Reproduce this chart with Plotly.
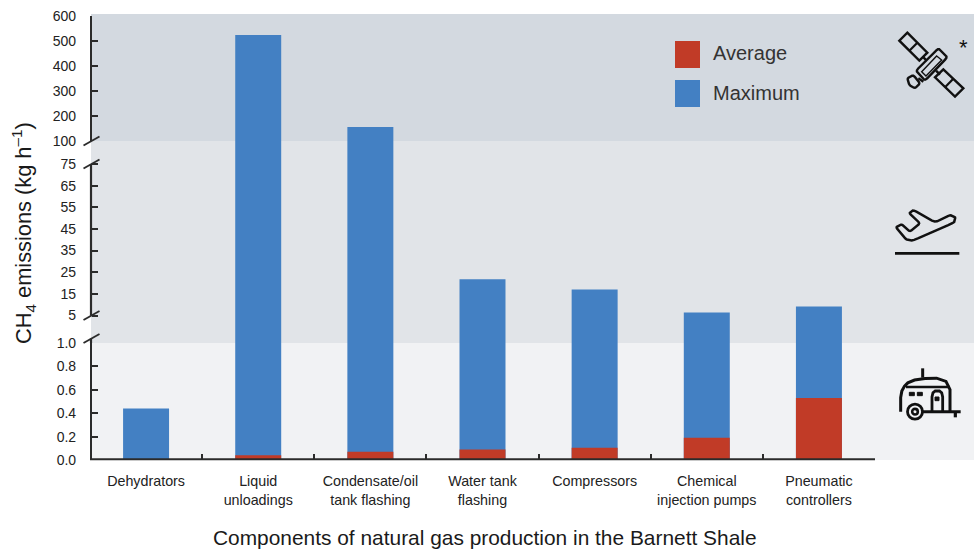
import plotly.graph_objects as go

W, H = 974, 550

categories = ["Dehydrators", "Liquid<br>unloadings", "Condensate/oil<br>tank flashing",
              "Water tank<br>flashing", "Compressors", "Chemical<br>injection pumps",
              "Pneumatic<br>controllers"]
maximum = [0.44, 524, 156, 21.7, 17, 6.4, 9.2]
average = [0.0, 0.04, 0.07, 0.09, 0.105, 0.19, 0.53]

low_ticks = [0.0, 0.2, 0.4, 0.6, 0.8, 1.0]
mid_ticks = [5, 15, 25, 35, 45, 55, 65, 75]
high_ticks = [100, 200, 300, 400, 500, 600]

BLUE, RED = "#4380c3", "#c13b27"
INK = "#2b2b2b"

def px(x):
    return x / W

def py(y):
    return 1 - y / H

# pixel rows of the three stacked panels
LOW_TOP, LOW_BOT = 343.0, 460.0
MID_TOP, MID_BOT = 141.0, 343.0
HIGH_TOP, HIGH_BOT = 16.0, 141.0
# middle axis scale: 5 at row 315.5, 75 at row 164
unit = (315.5 - 164) / 70
mid_range = [5 - (MID_BOT - 315.5) / unit, 75 + (164 - MID_TOP) / unit]

# x axis: plot starts at column 92, categories keep 112.14 px spacing around column 146
LEFT, RIGHT = 92.0, 875.0
step = (875 - 90) / 7
x_range = [-0.5 + (LEFT - 90) / step, 6.5]

fig = go.Figure()

# lower panel
fig.add_trace(go.Bar(x=categories, y=maximum, marker=dict(color=BLUE, line_width=0), width=0.41, xaxis="x", yaxis="y", name="Maximum", showlegend=False))
fig.add_trace(go.Bar(x=categories, y=average, marker=dict(color=RED, line_width=0), width=0.41, xaxis="x", yaxis="y", name="Average", showlegend=False))
# middle panel: only bars that leave the lower panel reach it
mid_vals = [m - mid_range[0] if m > 1 else None for m in maximum]
fig.add_trace(go.Bar(x=categories, y=mid_vals, base=mid_range[0], marker=dict(color=BLUE, line_width=0), width=0.41, xaxis="x", yaxis="y2", showlegend=False, name="Maximum"))
# upper panel
high_vals = [m - 100 if m > 100 else None for m in maximum]
fig.add_trace(go.Bar(x=categories, y=high_vals, base=100, marker=dict(color=BLUE, line_width=0), width=0.41, xaxis="x", yaxis="y3", showlegend=False, name="Maximum"))

shapes = []

def band(top, bot, col):
    shapes.append(dict(type="rect", xref="paper", yref="paper", layer="below", x0=px(91), x1=1,
                       y0=py(bot), y1=py(top), fillcolor=col, line_width=0))

band(14, 141, "#d3d9e0")
band(141, 343, "#e1e4e8")
band(343, 460, "#f1f2f4")

def seg(x0, y0, x1, y1, w=2.2, col=INK):
    shapes.append(dict(type="line", xref="paper", yref="paper", x0=px(x0), x1=px(x1),
                       y0=py(y0), y1=py(y1), line=dict(color=col, width=w)))

# visible part of the middle axis line, tied to the axis scale
shapes.append(dict(type="line", xref="paper", yref="y2", x0=px(91), x1=px(91), y0=5, y1=75,
                   line=dict(color=INK, width=2.2)))
# short stub of the lower axis above its 1.0 tick
seg(91, 338.5, 91, 343)
# bottom axis line
seg(90, 459.2, 875, 459.2, 2)
# break marks
for row in (141, 164, 315.5, 338.5):
    seg(83.5, row + 4.5, 99.5, row - 4.5, 1.9)

def rounded(points, r=0.18, close=True):
    out = []
    n = len(points)
    for i, (x, y) in enumerate(points):
        if not close and i in (0, n - 1):
            out.append((x, y))
            continue
        ax, ay = points[i - 1]
        bx, by = points[(i + 1) % n]
        out.append((x + (ax - x) * r, y + (ay - y) * r))
        out.append((x + (ax - x) * r * 0.3 + (bx - x) * r * 0.3, y + (ay - y) * r * 0.3 + (by - y) * r * 0.3))
        out.append((x + (bx - x) * r, y + (by - y) * r))
    return out

def path(points, close=False, w=2.4, fill=None, col="#111111"):
    d = "M" + " L".join(f"{px(x):.5f},{py(y):.5f}" for x, y in points) + (" Z" if close else "")
    shapes.append(dict(type="path", xref="paper", yref="paper", path=d,
                       line=dict(color=col, width=w), fillcolor=fill or "rgba(0,0,0,0)"))

def circle(cx, cy, r, w=2.4, fill=None, col="#111111"):
    shapes.append(dict(type="circle", xref="paper", yref="paper", x0=px(cx - r), x1=px(cx + r),
                       y0=py(cy + r), y1=py(cy - r), line=dict(color=col, width=w),
                       fillcolor=fill or "rgba(0,0,0,0)"))

def crop(ox, oy, pts):
    return [(ox + x / 3, oy + y / 3) for x, y in pts]

# satellite
S = (870, 10)
path(crop(*S, [(112, 68), (172, 128), (148, 152), (88, 92)]), True)
path(crop(*S, [(142, 98), (118, 122)]), w=2.2)
path(crop(*S, [(220, 178), (280, 235), (255, 260), (195, 202)]), True)
path(crop(*S, [(250, 206), (225, 232)]), w=2.2)
path(rounded(crop(*S, [(205, 115), (232, 142), (165, 212), (138, 182)]), 0.1), True)
path(crop(*S, [(200, 138), (215, 150), (168, 198), (155, 185)]), True, w=1.4)
path(crop(*S, [(158, 140), (170, 152)]), w=2.4)
path(crop(*S, [(198, 182), (210, 194)]), w=2.4)
path(rounded(crop(*S, [(130, 195), (112, 205), (118, 225), (135, 235), (150, 220)]), 0.2), True)
path(crop(*S, [(145, 205), (160, 215)]), w=2.4)

# aeroplane
P = (870, 190)
path(rounded(crop(*P, [(78, 112), (95, 103), (120, 125), (150, 100), (118, 70), (130, 60), (195, 97),
                       (240, 75), (256, 82), (252, 98), (128, 152), (108, 148)]), 0.14), True, w=2.5)
path(crop(*P, [(75, 190), (268, 190)]), w=2.6)

# caravan
C = (870, 355)
path(rounded(crop(*C, [(92, 170), (92, 105), (125, 72), (240, 68), (240, 170)]), 0.35, close=False), w=3)
path(crop(*C, [(108, 96), (240, 96)]), w=2.4)
path(crop(*C, [(158, 40), (158, 68)]), w=3)
path(crop(*C, [(155, 170), (272, 170)]), w=3)
path(crop(*C, [(256, 170), (256, 187)]), w=3.2)
path(rounded(crop(*C, [(186, 168), (186, 108), (218, 108), (218, 168)]), 0.3, close=False), w=2.8)
path(crop(*C, [(195, 126), (207, 126), (207, 137), (195, 137)]), True, w=1, fill="#111111")
path(crop(*C, [(118, 112), (133, 112), (133, 122), (118, 122)]), True, w=1, fill="#111111")
path(crop(*C, [(142, 112), (157, 112), (157, 122), (142, 122)]), True, w=1, fill="#111111")
circle(870 + 135 / 3, 355 + 170 / 3, 7.5, w=2.8, fill="#f1f2f4")
circle(870 + 135 / 3, 355 + 170 / 3, 2.8, w=2.6)

# legend swatches
shapes.append(dict(type="rect", xref="paper", yref="paper", x0=px(675), x1=px(700), y0=py(68), y1=py(41), fillcolor=RED, line_width=0))
shapes.append(dict(type="rect", xref="paper", yref="paper", x0=px(675), x1=px(700), y0=py(107), y1=py(80), fillcolor=BLUE, line_width=0))

annotations = [
    dict(text="Average", x=px(711), y=py(53), xanchor="left", yanchor="middle", font=dict(size=20, color="#333333")),
    dict(text="Maximum", x=px(711), y=py(92.5), xanchor="left", yanchor="middle", font=dict(size=20, color="#333333")),
    dict(text="*", x=px(963), y=py(47), xanchor="center", yanchor="middle", font=dict(size=22, color="#111111")),
    dict(text="CH<sub>4</sub> emissions (kg h<sup>–1</sup>)", x=px(24), y=py(233), textangle=-90,
         xanchor="center", yanchor="middle", font=dict(size=21.8, color="#1a1a1a")),
    dict(text="Components of natural gas production in the Barnett Shale", x=px(485), y=py(537),
         xanchor="center", yanchor="middle", font=dict(size=20.9, color="#1a1a1a")),
]
for a in annotations:
    a.update(xref="paper", yref="paper", showarrow=False)

tick_font = dict(size=14, color="#222222")

def yaxis(top, bot, rng, ticks, fmt=None, showline=True, standoff=11):
    return dict(domain=[py(bot), py(top)], range=rng, tickmode="array", tickvals=ticks,
                ticktext=[fmt.format(t) if fmt else str(t) for t in ticks],
                ticks="inside", ticklen=6, tickwidth=2.2, tickcolor=INK, tickfont=tick_font,
                ticklabelstandoff=standoff, showgrid=False, zeroline=False, showline=showline,
                linecolor=INK, linewidth=2.2, anchor="x", fixedrange=True, automargin=False)

fig.update_layout(
    template="none",
    width=W, height=H, margin=dict(l=0, r=0, t=0, b=0, autoexpand=False),
    paper_bgcolor="white", plot_bgcolor="rgba(0,0,0,0)",
    barmode="overlay", showlegend=False,
    font=dict(family="Liberation Sans, Arial, sans-serif"),
    xaxis=dict(domain=[px(LEFT), px(RIGHT)], range=x_range, anchor="y", type="category", tickson="boundaries",
               ticks="inside", ticklen=6, tickwidth=2, tickcolor=INK, showline=False,
               showgrid=False, zeroline=False, tickangle=0,
               tickfont=dict(size=14.3, color="#222222"), ticklabelstandoff=11, automargin=False),
    yaxis=yaxis(LOW_TOP, LOW_BOT, [0, 1.0], low_ticks, "{:.1f}"),
    yaxis2=yaxis(MID_TOP, MID_BOT, mid_range, mid_ticks, None, showline=False, standoff=15),
    yaxis3=yaxis(HIGH_TOP, HIGH_BOT, [100, 600], high_ticks),
    shapes=shapes, annotations=annotations,
)

fig.write_html("out.html", config={"displayModeBar": False},
               post_script="document.body.style.margin='0';")
